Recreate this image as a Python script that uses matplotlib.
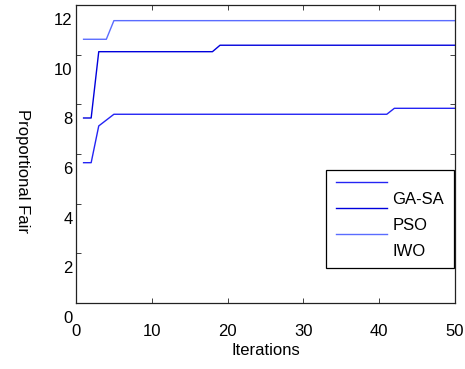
import matplotlib
matplotlib.use("Agg")
import matplotlib.pyplot as plt
import matplotlib.transforms as mtransforms

# ----------------------------------------------------------------------
# data (best value found per iteration)
# ----------------------------------------------------------------------
iter_ga = [1, 2, 3, 5, 41, 42, 50]
fair_ga = [5.65, 5.65, 7.13, 7.6, 7.6, 7.84, 7.84]

iter_pso = [1, 2, 3, 18, 19, 50]
fair_pso = [7.45, 7.45, 10.12, 10.12, 10.38, 10.38]

iter_iwo = [1, 4, 5, 50]
fair_iwo = [10.62, 10.62, 11.37, 11.37]

labels = ["GA-SA", "PSO", "IWO"]
xticks = [0, 10, 20, 30, 40, 50]
yticks = [0, 2, 4, 6, 8, 10, 12]

plt.rcParams["font.family"] = ["Liberation Sans", "DejaVu Sans"]
plt.rcParams["font.size"] = 12

fig = plt.figure(figsize=(4.65, 3.69), dpi=100)
ax = fig.add_axes([76 / 465, 66 / 369, 379 / 465, 298 / 369])

ax.plot(iter_ga, fair_ga, color="#2424f4", lw=1.0, label=labels[0])
ax.plot(iter_pso, fair_pso, color="#0000dc", lw=1.0, label=labels[1])
ax.plot(iter_iwo, fair_iwo, color="#5a6cff", lw=1.0, label=labels[2])

ax.set_xlim(0, 50)
ax.set_ylim(0, 12)
ax.set_xticks(xticks)
ax.set_yticks(yticks)
ax.tick_params(direction="in", length=3.5, width=0.6, top=True, right=True,
               colors="#222222", labelcolor="black")
ax.tick_params(axis="x", pad=15)
ax.tick_params(axis="y", pad=2.5)
for s in ax.spines.values():
    s.set_linewidth(0.9)
    s.set_color("#222222")

# the original export draws every text ~14 px below where it belongs
shift = mtransforms.ScaledTranslation(0, -0.14, fig.dpi_scale_trans)
for lab in ax.get_yticklabels():
    lab.set_transform(lab.get_transform() + shift)

ax.set_xlabel("Iterations", va="center")
ax.xaxis.set_label_coords(0.5, -0.158)
ax.set_ylabel("Proportional Fair", rotation=270, va="center", ha="center")
ax.yaxis.set_label_coords(-0.142, 0.443)

leg = ax.legend(loc="upper left", bbox_to_anchor=(0.659, 0.446),
                fancybox=False, framealpha=1, edgecolor="black",
                handlelength=3.05, handleheight=2.02, handletextpad=0.35,
                borderpad=0.6, labelspacing=0.0, borderaxespad=0)
leg.get_frame().set_linewidth(0.9)
# same offset glitch inside the legend: labels sit below their lines
txt_shift = mtransforms.ScaledTranslation(0, -0.06, fig.dpi_scale_trans)
line_shift = mtransforms.ScaledTranslation(0, 0.07, fig.dpi_scale_trans)
for t in leg.get_texts():
    t.set_transform(t.get_transform() + txt_shift)
for ln in leg.get_lines():
    ln.set_transform(ln.get_transform() + line_shift)

fig.savefig("out.png", dpi=100)
